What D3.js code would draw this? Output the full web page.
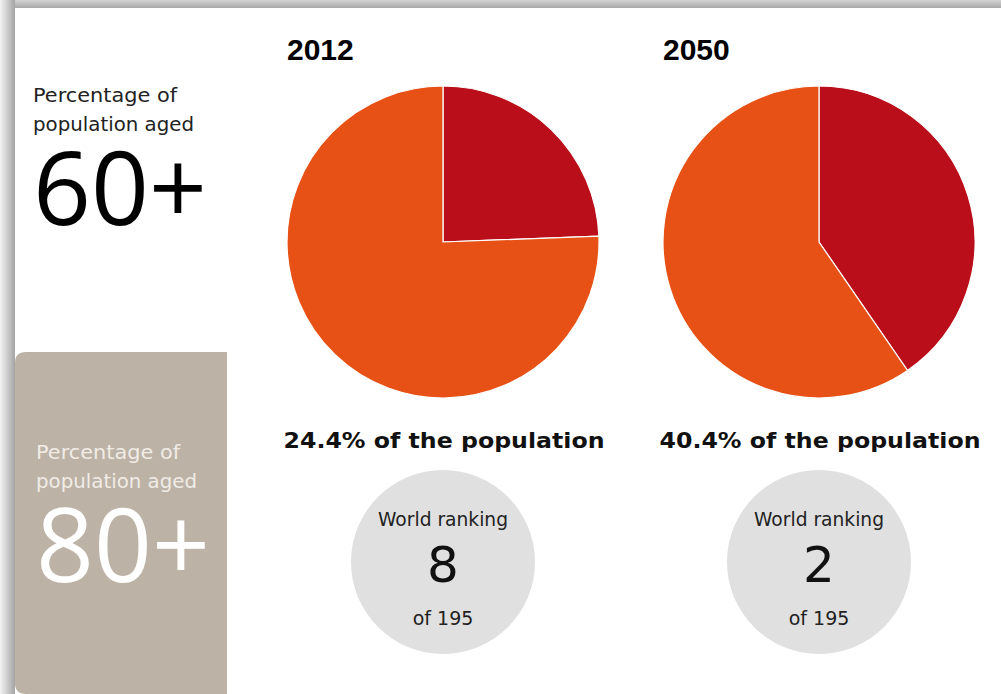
<html>
<head>
<script src="https://cdn.jsdelivr.net/npm/d3@7"></script>
<style>
  body { margin: 0; background: #fff; }
</style>
</head>
<body>
<svg id="chart" width="1001" height="694" font-family="'DejaVu Sans', Verdana, sans-serif"></svg>
<script>
// data
var years = ["2012", "2050"];
var share60 = [24.4, 40.4];        // % of population aged 60+
var worldRank = [8, 2];
var countryCount = 195;

var svg = d3.select("#chart");
var defs = svg.append("defs");

// page shadow (top and left edges)
var gTop = defs.append("linearGradient").attr("id", "shTop").attr("x1", 0).attr("y1", 0).attr("x2", 0).attr("y2", 1);
gTop.append("stop").attr("offset", "0%").attr("stop-color", "#d4d4d4");
gTop.append("stop").attr("offset", "100%").attr("stop-color", "#a9a9a9");
var gLeft = defs.append("linearGradient").attr("id", "shLeft").attr("x1", 0).attr("y1", 0).attr("x2", 1).attr("y2", 0);
gLeft.append("stop").attr("offset", "0%").attr("stop-color", "#f4f4f4");
gLeft.append("stop").attr("offset", "100%").attr("stop-color", "#a4a4a4");

svg.append("rect").attr("x", 0).attr("y", 0).attr("width", 1001).attr("height", 8).attr("fill", "url(#shTop)");
svg.append("rect").attr("x", 0).attr("y", 0).attr("width", 15).attr("height", 694).attr("fill", "url(#shLeft)");
svg.append("rect").attr("x", 15).attr("y", 8).attr("width", 986).attr("height", 686).attr("fill", "#fff");

// tan side panel, rounded on the left corners
var px = 15, py = 352, pw = 212, ph = 342, r = 11;
svg.append("path")
  .attr("d", "M" + (px + r) + "," + py + " H" + (px + pw) + " V" + (py + ph) + " H" + (px + r) +
    " Q" + px + "," + (py + ph) + " " + px + "," + (py + ph - r) + " V" + (py + r) +
    " Q" + px + "," + py + " " + (px + r) + "," + py + " Z")
  .attr("fill", "#bcb2a6");

// left labels
function sideLabel(x, y, big, colSmall, colBig) {
  var g = svg.append("g").attr("transform", "translate(" + x + "," + y + ")");
  g.append("text").attr("y", 0).attr("font-size", 20).attr("fill", colSmall)
    .attr("textLength", 144).attr("lengthAdjust", "spacingAndGlyphs").text("Percentage of");
  g.append("text").attr("y", 29).attr("font-size", 20).attr("fill", colSmall)
    .attr("textLength", 161).attr("lengthAdjust", "spacingAndGlyphs").text("population aged");
  g.append("text").attr("y", 123).attr("font-family", "'Open Sans', 'Noto Sans', sans-serif")
    .attr("font-size", 102).attr("fill", colBig)
    .attr("textLength", 174).attr("lengthAdjust", "spacingAndGlyphs").text(big);
}
sideLabel(33, 102, "60+", "#222", "#000");
sideLabel(36, 459, "80+", "#f1ece6", "#fff");

// pies
var radius = 156;
var centers = [443, 819];
var pie = d3.pie().sort(null).value(function (d) { return d; });
var arc = d3.arc().innerRadius(0).outerRadius(radius);
var sliceColors = ["#ba0f1a", "#e85116"];

years.forEach(function (yr, i) {
  var cx = centers[i];
  var g = svg.append("g");

  g.append("text")
    .attr("x", cx - radius).attr("y", 60)
    .attr("font-family", "'Liberation Sans', Arial, sans-serif")
    .attr("font-weight", "bold").attr("font-size", 30).attr("fill", "#000")
    .text(yr);

  g.append("g").attr("transform", "translate(" + cx + ",242)")
    .selectAll("path")
    .data(pie([share60[i], 100 - share60[i]]))
    .enter().append("path")
    .attr("d", arc)
    .attr("fill", function (d, j) { return sliceColors[j]; })
    .attr("stroke", "#fff").attr("stroke-width", 1.2);

  g.append("text")
    .attr("x", cx + 1).attr("y", 448).attr("text-anchor", "middle")
    .attr("font-weight", "bold").attr("font-size", 22).attr("fill", "#111")
    .attr("textLength", 321).attr("lengthAdjust", "spacingAndGlyphs")
    .text(d3.format(".1f")(share60[i]) + "% of the population");

  // ranking badge
  var b = g.append("g").attr("transform", "translate(" + cx + ",562)");
  b.append("circle").attr("r", 92).attr("fill", "#e0e0e0");
  b.append("text").attr("y", -36).attr("text-anchor", "middle").attr("font-size", 19).attr("fill", "#222")
    .attr("textLength", 130).attr("lengthAdjust", "spacingAndGlyphs").text("World ranking");
  b.append("text").attr("y", 20).attr("text-anchor", "middle").attr("font-size", 50).attr("fill", "#111").text(worldRank[i]);
  b.append("text").attr("y", 63).attr("text-anchor", "middle").attr("font-size", 19).attr("fill", "#222").text("of " + countryCount);
});
</script>
</body>
</html>
